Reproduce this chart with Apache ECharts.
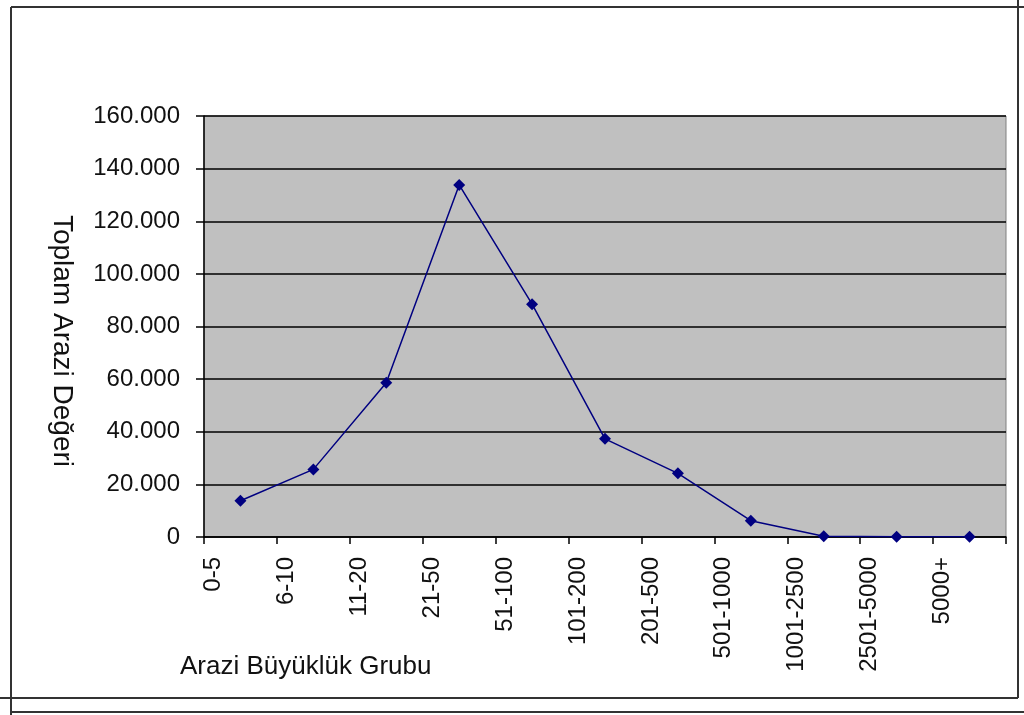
<!DOCTYPE html>
<html>
<head>
<meta charset="utf-8">
<script src="https://cdn.jsdelivr.net/npm/echarts@6/dist/echarts.min.js"></script>
<style>
html,body{margin:0;padding:0;background:#fff;}
#chart{width:1024px;height:715px;}
</style>
</head>
<body>
<div id="chart"></div>
<script>
const categories = ['0-5','6-10','11-20','21-50','51-100','101-200','201-500','501-1000','1001-2500','2501-5000','5000+'];
const values = [13800, 25700, 58600, 133800, 88500, 37300, 24200, 6200, 300, 100, 50];
const yTitle = 'Toplam Arazi Değeri';
const xTitle = 'Arazi Büyüklük Grubu';

const FONT = '"Liberation Sans", Arial, sans-serif';
const chart = echarts.init(document.getElementById('chart'), null, {renderer: 'canvas'});
const frame = {stroke: '#333', lineWidth: 2};
// label axis: the labels in the original sit at the band boundaries (ticks), not band centres
const labelCats = categories.concat(['']);
chart.setOption({
  backgroundColor: '#fff',
  animation: false,
  grid: {left: 204, right: 18, top: 116, bottom: 178, show: true, backgroundColor: '#c0c0c0', borderColor: '#808080', borderWidth: 1},
  xAxis: [{
    type: 'category',
    data: categories,
    position: 'bottom',
    boundaryGap: true,
    axisLine: {lineStyle: {color: '#000', width: 1.5}},
    axisTick: {show: true, interval: 0, length: 7, lineStyle: {color: '#000', width: 1.5}},
    axisLabel: {show: false, interval: 0},
    splitLine: {show: false}
  }, {
    type: 'category',
    data: labelCats,
    position: 'bottom',
    boundaryGap: false,
    axisLine: {show: false},
    axisTick: {show: false},
    axisLabel: {rotate: 90, margin: 20, fontFamily: FONT, fontSize: 24, color: '#111', interval: 0,
      verticalAlign: 'top', lineHeight: 19},
    splitLine: {show: false}
  }],
  yAxis: {
    type: 'value',
    min: 0, max: 160000, interval: 20000,
    axisLine: {show: true, lineStyle: {color: '#000', width: 1.5}},
    axisTick: {show: true, length: 8, lineStyle: {color: '#000', width: 1.5}},
    axisLabel: {margin: 24, fontFamily: FONT, fontSize: 24, color: '#111',
      formatter: v => v === 0 ? '0' : (v / 1000) + '.000'},
    splitLine: {show: true, lineStyle: {color: '#000', width: 1.5}}
  },
  series: [{
    type: 'line',
    xAxisIndex: 0,
    data: values,
    symbol: 'diamond',
    symbolSize: 12,
    lineStyle: {color: '#000080', width: 1.5},
    itemStyle: {color: '#000080'}
  }],
  graphic: [
    {type: 'text', x: 62, y: 341, rotation: -Math.PI / 2,
      style: {text: yTitle, font: '28px ' + FONT, fill: '#111', align: 'center', verticalAlign: 'middle'}},
    {type: 'text', left: 180, top: 654, style: {text: xTitle, font: '26px ' + FONT, fill: '#111'}},
    {type: 'line', shape: {x1: 11, y1: 7, x2: 1024, y2: 7}, style: frame},
    {type: 'line', shape: {x1: 11, y1: 7, x2: 11, y2: 715}, style: frame},
    {type: 'line', shape: {x1: 1018, y1: 0, x2: 1018, y2: 698}, style: frame},
    {type: 'line', shape: {x1: 0, y1: 698, x2: 1018, y2: 698}, style: frame},
    {type: 'line', shape: {x1: 11, y1: 712, x2: 1024, y2: 712}, style: frame}
  ]
});
</script>
</body>
</html>
